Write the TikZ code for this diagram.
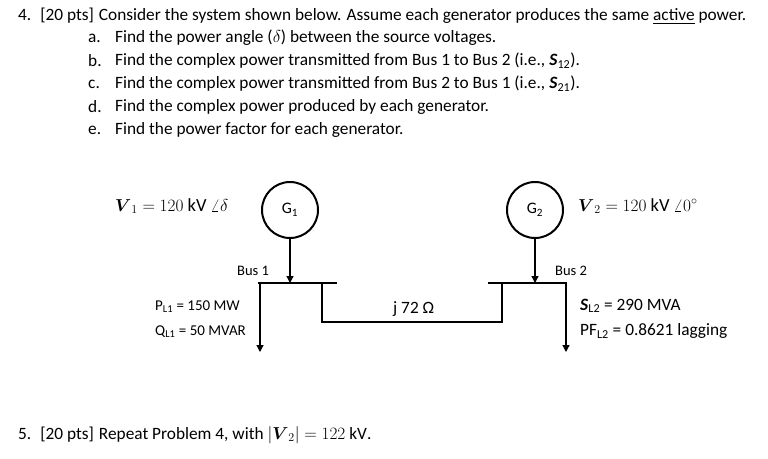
\documentclass[tikz,border=0pt]{standalone}
\usepackage{fontspec}
\usepackage{amsmath}
\setmainfont{Carlito}
\usetikzlibrary{arrows.meta}
\begin{document}
\begin{tikzpicture}[x=1pt,y=-1pt,
  txt/.style={anchor=west,inner sep=0pt,font=\fontsize{17.3}{20}\selectfont},
  mth/.style={anchor=west,inner sep=0pt,font=\fontsize{18.5}{20}\selectfont},
  wire/.style={line width=1.4pt},
  bus/.style={line width=2.4pt},
  arr/.style={line width=1.2pt,-{Triangle[length=7pt,width=7pt]}},
  gen/.style={draw,circle,line width=2pt,minimum size=56pt,inner sep=0pt,font=\fontsize{16}{18}\selectfont}]
\useasboundingbox (0,0) rectangle (768,458);
\node[txt] (q4) at (18,16) {4.\hspace{9pt}[20 pts]\hspace{5pt}Consider the system shown below. Assume each generator produces the same \underline{active} power.};
\node[txt] (la) at (88,38) {a.};
\node[txt] (ta) at (115,38) {Find the power angle ($\delta$) between the source voltages.};
\node[txt] (lb) at (88,61) {b.};
\node[txt] (tb) at (115,61) {Find the complex power transmitted from Bus 1 to Bus 2 (i.e., \textbf{\textit{S}}\textsubscript{12}).};
\node[txt] (lc) at (88,84) {c.};
\node[txt] (tc) at (115,84) {Find the complex power transmitted from Bus 2 to Bus 1 (i.e., \textbf{\textit{S}}\textsubscript{21}).};
\node[txt] (ld) at (88,107) {d.};
\node[txt] (td) at (115,107) {Find the complex power produced by each generator.};
\node[txt] (le) at (88,130) {e.};
\node[txt] (te) at (115,130) {Find the power factor for each generator.};

\node[gen] (g1) at (290,210) {G\textsubscript{1}};
\node[gen] (g2) at (535,210) {G\textsubscript{2}};
\node[mth] (v1) at (115,206) {$\boldsymbol{V}_1 = 120\ \mathrm{kV}\ \angle\delta$};
\node[mth] (v2) at (578,206) {$\boldsymbol{V}_2 = 120\ \mathrm{kV}\ \angle 0^\circ$};

\coordinate (b1l) at (258,283); \coordinate (b1r) at (337,283);
\coordinate (b2l) at (488,283); \coordinate (b2r) at (567,283);
\draw[bus] (b1l) -- (b1r);
\draw[bus] (b2l) -- (b2r);
\coordinate (b1g) at (290,283); \coordinate (b2g) at (535,283);
\draw[arr] (g1.south) -- (b1g);
\draw[arr] (g2.south) -- (b2g);
\coordinate (l1a) at (260,283); \coordinate (l1b) at (260,352);
\coordinate (l2a) at (566,283); \coordinate (l2b) at (566,352);
\draw[arr] (l1a) -- (l1b);
\draw[arr] (l2a) -- (l2b);
\coordinate (ta1) at (322,283); \coordinate (ta2) at (322,322);
\coordinate (tb1) at (502,322); \coordinate (tb2) at (502,283);
\draw[wire] (ta1) -- (ta2) -- (tb1) -- (tb2);

\node[txt,font=\fontsize{14.5}{16}\selectfont] (bus1) at (237,271) {Bus 1};
\node[txt,font=\fontsize{14.5}{16}\selectfont] (bus2) at (555,271) {Bus 2};
\node[txt,font=\fontsize{15}{17}\selectfont] (pl) at (155,307) {P\textsubscript{L1} = 150 MW};
\node[txt,font=\fontsize{15}{17}\selectfont] (ql) at (155,332) {Q\textsubscript{L1} = 50 MVAR};
\node[txt] (z) at (393,309) {j 72 Ω};
\node[txt] (sl) at (580,306) {\textbf{\textit{S}}\textsubscript{L2} = 290 MVA};
\node[txt] (pf) at (580,331) {PF\textsubscript{L2} = 0.8621 lagging};

\node[txt] (q5) at (18,435) {5.\hspace{9pt}[20 pts]\hspace{5pt}Repeat Problem 4, with $|\boldsymbol{V}_2| = 122\ \mathrm{kV}$.};
\end{tikzpicture}
\end{document}
